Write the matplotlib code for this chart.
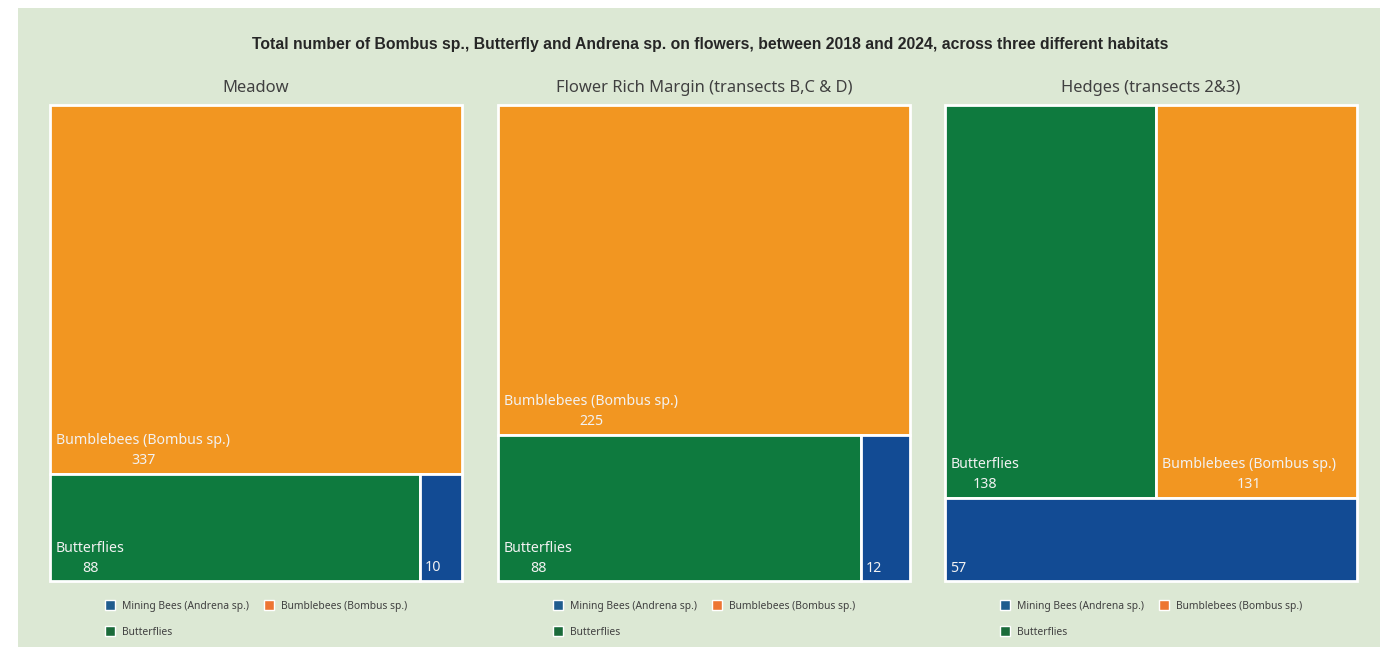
import matplotlib.pyplot as plt
from matplotlib.patches import Rectangle

# data
habitats = ['Meadow', 'Flower Rich Margin (transects B,C & D)', 'Hedges (transects 2&3)']
categories = ['Mining Bees (Andrena sp.)', 'Bumblebees (Bombus sp.)', 'Butterflies']
mining = [10, 12, 57]
bumble = [337, 225, 131]
butter = [88, 88, 138]

box_colors = ['#124B94', '#F29621', '#0E7A3E']
legend_colors = ['#1F5C8E', '#ED7533', '#1A6B3A']
show_name = [False, True, True]

bg = '#DCE8D4'
W, H = 1380, 647


def worst(row, side):
    s = sum(row)
    return max(max(side * side * r / (s * s), s * s / (side * side * r)) for r in row)


def squarify(areas, x, y, w, h):
    # squarified treemap, y grows downwards
    rects = []
    areas = list(areas)
    while areas:
        side = min(w, h)
        row = [areas[0]]
        i = 1
        while i < len(areas) and worst(row + [areas[i]], side) <= worst(row, side):
            row.append(areas[i])
            i += 1
        areas = areas[i:]
        s = sum(row)
        if w <= h:
            rh = s / w
            cx = x
            for r in row:
                rects.append((cx, y, r / rh, rh))
                cx += r / rh
            y += rh
            h -= rh
        else:
            cw = s / h
            cy = y
            for r in row:
                rects.append((x, cy, cw, r / cw))
                cy += r / cw
            x += cw
            w -= cw
    return rects


fig = plt.figure(figsize=(W / 100, H / 100), dpi=100)
fig.patch.set_facecolor('white')
fig.patches.append(Rectangle((18 / W, 0), 1 - 18 / W, 1 - 8 / H, transform=fig.transFigure,
                             facecolor=bg, edgecolor='none', zorder=-10))

fig.text(710 / W, 1 - 45 / H,
         'Total number of Bombus sp., Butterfly and Andrena sp. on flowers, between 2018 and 2024, across three different habitats',
         ha='center', va='center', fontsize=11.3, fontweight='bold', color='#262626',
         family='Liberation Sans')

lefts = [50, 498, 945]
pw, top, bot = 412, 105, 581
ph = bot - top

for k, hab in enumerate(habitats):
    ax = fig.add_axes([lefts[k] / W, (H - bot) / H, pw / W, ph / H])
    ax.set_xlim(0, pw)
    ax.set_ylim(ph, 0)
    ax.axis('off')

    vals = [mining[k], bumble[k], butter[k]]
    order = sorted(range(3), key=lambda i: -vals[i])
    total = sum(vals)
    areas = [vals[i] * pw * ph / total for i in order]
    rects = squarify(areas, 0, 0, pw, ph)

    for idx, (x, y, w, h) in zip(order, rects):
        ax.add_patch(Rectangle((x, y), w, h, facecolor=box_colors[idx], edgecolor='white',
                               linewidth=2, clip_on=False))
        b = y + h
        if show_name[idx]:
            t = ax.text(x + 6, b - 33, categories[idx], ha='left', va='center', fontsize=10.2,
                        color='#F2F2F2', family='Noto Sans')
            fig.canvas.draw()
            bb = t.get_window_extent().transformed(ax.transData.inverted())
            cx = (bb.x0 + bb.x1) / 2
            ax.text(cx, b - 13, str(vals[idx]), ha='center', va='center', fontsize=10.2,
                    color='#F2F2F2', family='Noto Sans')
        else:
            ax.text(x + 5, b - 13, str(vals[idx]), ha='left', va='center', fontsize=10.2,
                    color='#F2F2F2', family='Noto Sans')

    ax.text(pw / 2, -17, hab, ha='center', va='center', fontsize=11.9, color='#404040',
            family='Noto Sans', clip_on=False)

    handles = [Rectangle((0, 0), 1, 1, facecolor=legend_colors[i], edgecolor='white', linewidth=1)
               for i in [0, 2, 1]]
    labels = [categories[i] for i in [0, 2, 1]]
    ax.legend(handles, labels, loc='center', bbox_to_anchor=(0.5, (bot - 619) / ph),
              ncol=2, frameon=False, handlelength=1.0, handleheight=1.0,
              handletextpad=0.7, columnspacing=1.4, labelspacing=1.45, borderpad=0,
              prop={'family': 'Noto Sans', 'size': 7.4}, labelcolor='#404040')

plt.savefig('out.png', dpi=100, facecolor='white')
